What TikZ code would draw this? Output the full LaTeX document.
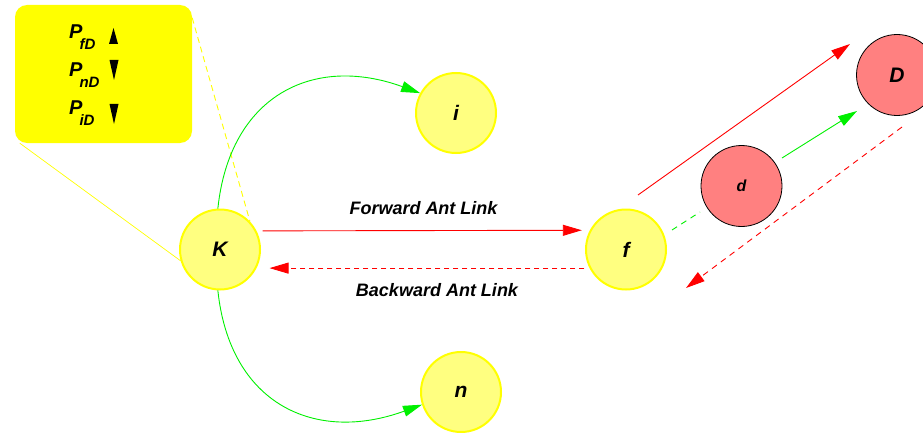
\documentclass[tikz,border=0pt]{standalone}
\usepackage{fontspec}
\setmainfont{Liberation Sans}
\usetikzlibrary{arrows.meta,calc}
\definecolor{hopfill}{RGB}{255,255,128}
\definecolor{hoprim}{RGB}{255,255,0}
\definecolor{destfill}{RGB}{255,128,128}
\definecolor{linkred}{RGB}{255,0,0}
\definecolor{linkgreen}{RGB}{0,240,0}
\definecolor{legendfill}{RGB}{255,255,0}
\newcommand\probsub[1]{\kern-3pt\raisebox{-11pt}{\fontsize{15}{15}\selectfont\bfseries\itshape #1}}
\begin{document}
\begin{tikzpicture}[x=1pt,y=1pt,
  labelfont/.style={font=\fontsize{#1}{#1}\selectfont\bfseries\itshape},
  hop/.style={circle,draw=hoprim,fill=hopfill,line width=2pt,
    minimum size=80pt,inner sep=0pt,labelfont=21},
  dest/.style={circle,draw=black,fill=destfill,line width=0.8pt,
    minimum size=81pt,inner sep=0pt,labelfont=21},
  tipped/.style={-{Triangle[length=19pt,width=11pt]}},
  fwdlink/.style={linkred,line width=0.9pt,tipped},
  bwdlink/.style={fwdlink,dash pattern=on 5pt off 4pt},
  explore/.style={linkgreen,line width=0.9pt,tipped},
  callout/.style={legendfill,line width=0.9pt},
  linklabel/.style={labelfont=18,inner sep=0pt,anchor=base},
  problabel/.style={labelfont=20,inner sep=0pt,anchor=base west},
  trend/.style={fill=black}
]
\useasboundingbox (0,0) rectangle (923,432);

% legend box with the probability trends
\node[fill=legendfill,rounded corners=12pt,minimum width=177pt,
  minimum height=138pt,inner sep=0pt] (legend) at (103.5,358) {};
\node[problabel] (pfD) at (69,393) {P\probsub{fD}};
\node[problabel] (pnD) at (69,355) {P\probsub{nD}};
\node[problabel] (piD) at (69,317) {P\probsub{iD}};
\fill[trend] (109,388) -- (118,388) -- (113.5,404) -- cycle;
\fill[trend] (109.5,372) -- (118.5,372) -- (114,352) -- cycle;
\fill[trend] (109.5,328) -- (118.5,328) -- (114,308) -- cycle;

% network nodes
\node[hop] (K) at (220,182.5) {K};
\node[hop] (i) at (456,319) {i};
\node[hop] (n) at (461,40) {n};
\node[hop] (f) at (626,182.5) {f};
\node[dest,labelfont=16] (d) at (741.5,246) {d};
\node[dest] (D) at (897,357) {D};

% callout lines from the legend to K
\draw[callout,dash pattern=on 6pt off 4pt] ($(legend.north east)+(0,-13)$) -- (K.43.6);
\draw[callout,line width=0.7pt] ($(legend.south west)+(5,0)$) -- (K.196.6);

% exploration from K to its neighbours
\draw[explore] (K.93) to[out=84,in=160,looseness=1.25] (i.151);
\draw[explore] (K.267) to[out=-84,in=200,looseness=1.25] (n.198);

% ant links between K and f
\draw[fwdlink,shorten <=6pt,shorten >=8pt] (K.27.6) -- (f.152.4);
\draw[bwdlink,shorten <=5pt,shorten >=13pt] (f.207.6) -- (K.-27.6);
\node[linklabel] (fwdtext) at (423.5,218) {Forward Ant Link};
\node[linklabel] (bwdtext) at (437,136) {Backward Ant Link};

% links towards the destination D
\coordinate (fwdS) at (638,237);
\coordinate (fwdE) at (850,388);
\coordinate (expS) at (672,202);
\coordinate (expM) at (700,220);
\coordinate (expN) at (782,274);
\coordinate (expE) at (857,321);
\coordinate (retS) at (902,305);
\coordinate (retE) at (686,144);
\draw[fwdlink] (fwdS) -- (fwdE);
\draw[linkgreen,line width=0.9pt,dash pattern=on 6pt off 5pt] (expS) -- (expM);
\draw[explore] (expN) -- (expE);
\draw[bwdlink,dash pattern=on 6pt off 5pt] (retS) -- (retE);
\end{tikzpicture}
\end{document}
